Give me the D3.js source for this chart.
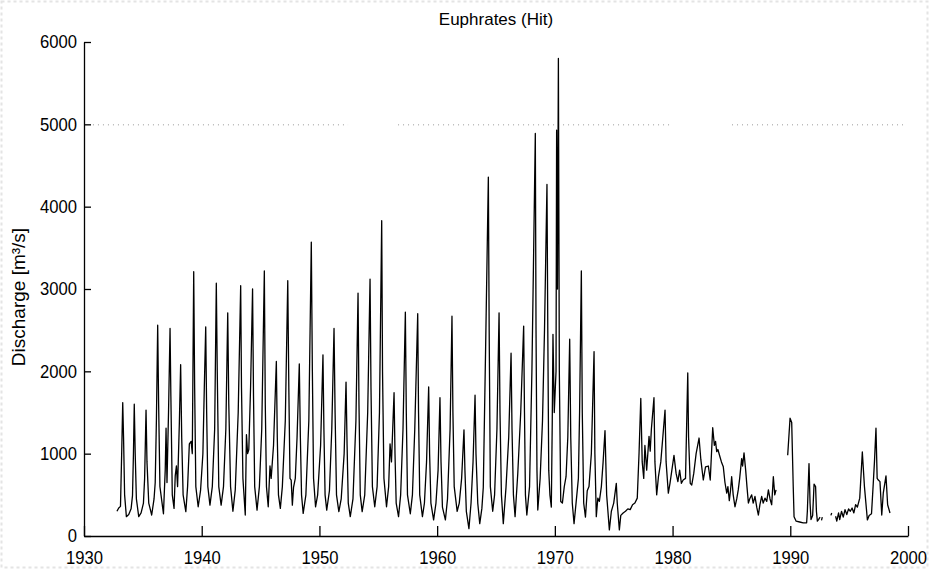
<!DOCTYPE html>
<html>
<head>
<meta charset="utf-8">
<script src="https://cdn.jsdelivr.net/npm/d3@7"></script>
<style>
  body { margin: 0; background: #fff; }
  svg { display: block; font-family: 'Liberation Sans', Arial, sans-serif; }
</style>
</head>
<body>
<div id="chart"></div>
<script>
const flow = [
  [1932.8,300],[1932.95,340],[1933.1,360],[1933.2,1000],[1933.29,1620],[1933.36,1200],[1933.45,500],[1933.6,235],[1933.8,260],
  [1934.0,330],[1934.12,490],[1934.2,1000],[1934.27,1600],[1934.35,1000],[1934.45,450],[1934.65,235],[1934.85,280],
  [1935.05,400],[1935.15,700],[1935.27,1530],[1935.35,900],[1935.5,400],[1935.75,255],[1935.95,450],
  [1936.05,650],[1936.15,1400],[1936.26,2560],[1936.34,1600],[1936.45,600],[1936.75,270],[1936.9,800],[1936.97,1310],
  [1937.05,650],[1937.18,1500],[1937.31,2520],[1937.38,1700],[1937.5,500],[1937.65,335],[1937.75,730],[1937.85,850],[1937.95,600],
  [1938.1,1370],[1938.21,2080],[1938.3,1200],[1938.42,500],[1938.65,295],[1938.8,600],[1938.95,1120],
  [1939.1,1150],[1939.2,1000],[1939.32,3210],[1939.4,1800],[1939.5,600],[1939.7,355],[1939.9,550],
  [1940.1,1000],[1940.22,1800],[1940.34,2540],[1940.42,1500],[1940.52,600],[1940.7,375],[1940.9,600],
  [1941.1,1300],[1941.24,3070],[1941.32,2000],[1941.45,600],[1941.65,375],[1941.85,600],
  [1942.05,1300],[1942.21,2710],[1942.3,1600],[1942.45,600],[1942.65,300],[1942.85,560],
  [1943.1,1500],[1943.31,3040],[1943.38,1800],[1943.5,700],[1943.7,255],[1943.8,1230],[1943.9,1000],
  [1944.0,1050],[1944.15,1800],[1944.32,3000],[1944.4,1700],[1944.5,600],[1944.7,315],[1944.9,600],
  [1945.1,1300],[1945.32,3220],[1945.4,1600],[1945.5,600],[1945.65,355],[1945.8,850],[1945.9,700],
  [1946.1,1100],[1946.34,2120],[1946.42,1200],[1946.52,500],[1946.68,335],[1946.85,600],
  [1947.1,1400],[1947.31,3100],[1947.4,1800],[1947.5,700],[1947.6,680],[1947.7,375],[1947.8,590],[1947.95,700],
  [1948.1,1200],[1948.29,2090],[1948.38,1200],[1948.48,500],[1948.62,275],[1948.85,500],
  [1949.1,1400],[1949.31,3570],[1949.4,2000],[1949.5,700],[1949.67,355],[1949.85,500],
  [1950.1,1100],[1950.3,2200],[1950.38,1300],[1950.48,500],[1950.62,315],[1950.85,550],
  [1951.05,1300],[1951.24,2520],[1951.33,1500],[1951.45,500],[1951.65,295],[1951.85,450],
  [1952.1,1000],[1952.26,1870],[1952.35,1100],[1952.45,400],[1952.62,235],[1952.85,450],
  [1953.1,1400],[1953.28,2950],[1953.36,1600],[1953.47,500],[1953.63,295],[1953.85,500],
  [1954.1,1500],[1954.3,3120],[1954.38,1800],[1954.5,600],[1954.7,355],[1954.9,600],
  [1955.1,1500],[1955.29,3830],[1955.36,2000],[1955.48,700],[1955.7,355],[1955.88,600],
  [1956.0,1120],[1956.12,900],[1956.34,1740],[1956.42,1000],[1956.52,400],[1956.72,235],[1956.9,500],
  [1957.1,1300],[1957.3,2720],[1957.38,1500],[1957.48,500],[1957.72,270],[1957.9,500],
  [1958.1,1300],[1958.35,2700],[1958.42,1500],[1958.52,500],[1958.75,235],[1958.92,400],
  [1959.1,900],[1959.28,1810],[1959.36,1000],[1959.47,400],[1959.7,195],[1959.9,400],
  [1960.08,800],[1960.24,1680],[1960.33,900],[1960.45,350],[1960.7,195],[1960.88,450],
  [1961.1,1300],[1961.26,2670],[1961.34,1500],[1961.45,600],[1961.7,300],[1961.88,400],
  [1962.08,700],[1962.28,1290],[1962.36,800],[1962.48,300],[1962.7,90],[1962.88,400],
  [1963.05,900],[1963.22,1710],[1963.3,1000],[1963.45,400],[1963.62,150],[1963.8,335],[1963.92,590],
  [1964.12,2300],[1964.35,4360],[1964.42,2500],[1964.52,600],[1964.72,300],[1964.88,500],
  [1965.08,1300],[1965.26,2710],[1965.34,1500],[1965.46,500],[1965.62,150],[1965.85,590],
  [1966.08,1200],[1966.28,2220],[1966.36,1300],[1966.48,500],[1966.62,235],[1966.85,760],
  [1967.1,1500],[1967.35,2550],[1967.42,1500],[1967.5,500],[1967.62,255],[1967.85,600],
  [1968.05,2000],[1968.18,3270],[1968.34,4890],[1968.4,2500],[1968.48,800],[1968.55,315],[1968.75,700],[1968.95,1400],
  [1969.12,2500],[1969.33,4270],[1969.4,2500],[1969.48,800],[1969.58,500],[1969.7,350],[1969.78,1400],[1969.84,2450],[1969.95,1500],
  [1970.1,2000],[1970.15,4930],[1970.22,3000],[1970.3,5800],[1970.38,2000],[1970.5,420],[1970.64,400],[1970.8,600],[1970.95,720],
  [1971.1,1200],[1971.26,2390],[1971.35,1200],[1971.48,400],[1971.63,150],[1971.8,400],
  [1972.0,700],[1972.1,1500],[1972.25,3220],[1972.33,1500],[1972.45,400],[1972.6,230],[1972.75,550],[1972.9,600],
  [1973.1,1000],[1973.33,2240],[1973.4,1000],[1973.52,235],[1973.65,460],[1973.78,420],[1973.95,600],
  [1974.1,900],[1974.26,1280],[1974.4,500],[1974.63,75],[1974.8,300],
  [1975.0,400],[1975.22,640],[1975.3,400],[1975.48,75],[1975.6,250],[1975.8,280],
  [1976.0,300],[1976.2,330],[1976.4,320],[1976.6,380],[1976.8,400],
  [1977.0,460],[1977.15,1000],[1977.3,1670],[1977.42,900],[1977.55,700],[1977.65,1100],[1977.8,800],
  [1978.0,1210],[1978.1,1030],[1978.2,1300],[1978.42,1680],[1978.5,900],[1978.65,500],[1978.8,720],
  [1979.0,900],[1979.36,1530],[1979.45,900],[1979.64,520],[1979.78,640],
  [1980.12,980],[1980.3,760],[1980.45,660],[1980.6,800],[1980.75,640],[1980.9,680],
  [1981.1,700],[1981.29,1980],[1981.36,1200],[1981.5,640],[1981.63,620],[1981.8,760],
  [1982.0,1000],[1982.25,1190],[1982.4,930],[1982.61,680],[1982.8,840],
  [1983.04,850],[1983.2,680],[1983.41,1315],[1983.55,1100],[1983.65,1150],[1983.75,1025],[1983.85,1050],
  [1984.03,960],[1984.15,900],[1984.31,840],[1984.45,650],[1984.6,520],[1984.7,600],[1984.82,430],[1984.92,550],
  [1985.02,720],[1985.15,500],[1985.3,355],[1985.45,450],[1985.58,560],[1985.7,700],[1985.87,940],[1985.95,850],
  [1986.07,1010],[1986.21,800],[1986.32,600],[1986.44,400],[1986.55,450],[1986.72,500],[1986.85,400],
  [1987.0,480],[1987.15,350],[1987.29,255],[1987.42,380],[1987.57,480],[1987.7,400],[1987.85,460],
  [1988.0,420],[1988.14,560],[1988.28,450],[1988.42,380],[1988.56,720],[1988.68,500],[1988.79,560],
  [1989.3,null],
  [1989.78,980],[1989.98,1430],[1990.12,1380],[1990.25,600],[1990.32,235],[1990.5,180],[1990.8,170],
  [1991.1,160],[1991.39,160],[1991.45,300],[1991.59,880],[1991.68,400],[1991.76,200],[1991.9,250],
  [1992.02,630],[1992.15,600],[1992.22,300],[1992.3,180],[1992.4,200],[1992.53,230],
  [1992.6,null],[1992.65,190],[1992.72,230],[1993.0,null],[1993.45,250],[1993.52,280],[1993.7,null],
  [1993.85,240],[1993.95,180],[1994.1,280],[1994.2,200],[1994.35,300],[1994.5,230],[1994.65,320],[1994.8,260],[1994.95,330],
  [1995.1,300],[1995.25,340],[1995.4,280],[1995.55,380],[1995.7,350],[1995.9,460],
  [1996.12,1020],[1996.3,600],[1996.55,195],[1996.7,250],[1996.9,270],
  [1997.05,640],[1997.15,900],[1997.28,1310],[1997.38,700],[1997.48,680],[1997.62,660],[1997.77,255],[1997.9,520],
  [1998.13,730],[1998.27,380],[1998.47,280]
]

const xTicks = [1930, 1940, 1950, 1960, 1970, 1980, 1990, 2000]
const yTicks = [0, 1000, 2000, 3000, 4000, 5000, 6000]
// the dotted 5000 line is broken into pieces in the original
const gridSegments = [[1930.76, 1952.43], [1956.68, 1980.04], [1985.05, 1999.75]]
const gridLevel = 5000

const width = 929
const height = 569
const margin = { top: 42, right: 21, bottom: 33, left: 84 }

const svg = d3.select('#chart')
  .append('svg')
  .attr('width', width)
  .attr('height', height)

// faint dotted frame round the picture
svg.append('rect')
  .attr('x', 1.5).attr('y', 1.5)
  .attr('width', width - 3).attr('height', height - 3)
  .attr('fill', 'none')
  .attr('stroke', '#e4e4e4')
  .attr('stroke-width', 2)
  .attr('stroke-dasharray', '3,3')

const x = d3.scaleLinear()
  .domain([1930, 2000])
  .range([margin.left, width - margin.right])

const y = d3.scaleLinear()
  .domain([0, 6000])
  .range([height - margin.bottom, margin.top])

// grid
svg.append('g')
  .selectAll('line')
  .data(gridSegments)
  .join('line')
  .attr('x1', d => x(d[0]))
  .attr('x2', d => x(d[1]))
  .attr('y1', y(gridLevel) + 0.5)
  .attr('y2', y(gridLevel) + 0.5)
  .attr('stroke', '#9a9a9a')
  .attr('stroke-width', 1)
  .attr('stroke-dasharray', '1,4')

// hydrograph
const line = d3.line()
  .defined(d => d[1] != null)
  .x(d => x(d[0]))
  .y(d => y(d[1]))

svg.append('path')
  .datum(flow)
  .attr('d', line)
  .attr('fill', 'none')
  .attr('stroke', '#000')
  .attr('stroke-width', 1.3)
  .attr('stroke-linejoin', 'round')

// axes
const xAxis = svg.append('g')
  .attr('transform', `translate(0,${height - margin.bottom})`)
  .call(d3.axisBottom(x).tickValues(xTicks).tickFormat(d3.format('d')).tickSizeInner(-10).tickSizeOuter(0))

xAxis.selectAll('text')
  .attr('y', 28)
  .attr('dy', 0)
  .attr('transform', 'scale(0.9,1)')

const yAxis = svg.append('g')
  .attr('transform', `translate(${margin.left},0)`)
  .call(d3.axisLeft(y).tickValues(yTicks).tickFormat(d3.format('d')).tickSizeInner(-7).tickSizeOuter(0))

yAxis.selectAll('text')
  .attr('x', -7 / 0.9)
  .attr('transform', 'scale(0.9,1)')

svg.selectAll('.domain, .tick line')
  .attr('stroke', '#000')
  .attr('stroke-width', 1.3)

svg.selectAll('.tick text')
  .attr('fill', '#000')
  .style('font-size', '18.5px')
  .style('font-family', "'Liberation Sans', Arial, sans-serif")

// title and label
svg.append('text')
  .attr('x', (x.range()[0] + x.range()[1]) / 2)
  .attr('y', 25)
  .attr('text-anchor', 'middle')
  .style('font-size', '17px')
  .text('Euphrates (Hit)')

svg.append('text')
  .attr('transform', 'translate(25,297) rotate(-90)')
  .attr('text-anchor', 'middle')
  .style('font-size', '19px')
  .text('Discharge [m³/s]')
</script>
</body>
</html>
